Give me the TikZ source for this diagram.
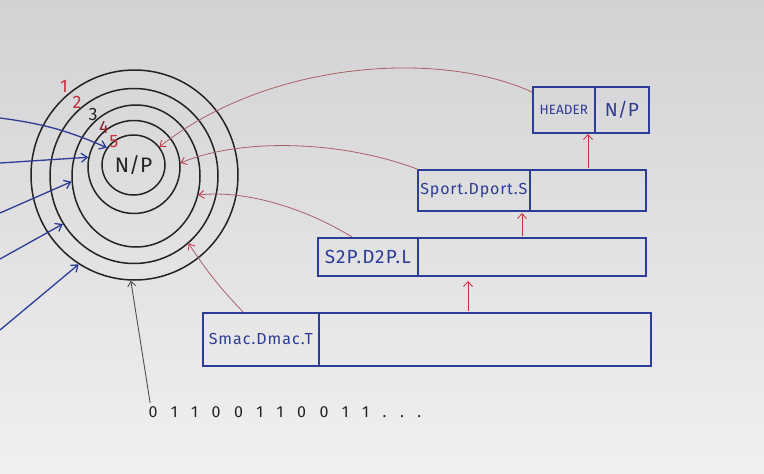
\documentclass[tikz,border=0pt]{standalone}
\usepackage{fontspec}
\setmainfont{Fira Sans}
\usetikzlibrary{shapes.geometric,arrows.meta,calc}
\definecolor{ink}{RGB}{45,60,150}
\definecolor{redink}{RGB}{200,45,60}
\definecolor{paleRed}{RGB}{170,95,105}
\definecolor{pen}{RGB}{35,35,35}
\definecolor{bgtop}{RGB}{210,210,212}
\definecolor{bgbot}{RGB}{240,240,240}
\begin{document}
\begin{tikzpicture}[x=1pt,y=-1pt,
  ring/.style={ellipse, draw=pen, line width=1.5pt, inner sep=0pt},
  bluearrow/.style={draw=ink, line width=1.3pt, -{Straight Barb[length=6pt,width=9pt]}},
  redcurve/.style={draw=paleRed, line width=0.8pt, -{Straight Barb[length=5pt,width=8pt,color=redink]}},
  redup/.style={draw=redink, line width=0.8pt, -{Straight Barb[length=5pt,width=9pt]}},
  penarrow/.style={draw=pen!80, line width=0.9pt, -{Straight Barb[length=5pt,width=8pt]}},
  box/.style={draw=ink, line width=1.7pt, inner sep=0pt, anchor=north west, text=ink},
  num/.style={font=\fontsize{18}{18}\selectfont}
]
\shade[top color=bgtop, bottom color=bgbot] (0,0) rectangle (764,474);
\useasboundingbox (0,0) rectangle (764,474);

% rings
\node[ring, minimum width=207pt, minimum height=210pt] (r1) at (134.5,175) {};
\node[ring, minimum width=168pt, minimum height=175pt] (r2) at (134,176) {};
\node[ring, minimum width=128pt, minimum height=142pt] (r3) at (136,176) {};
\node[ring, minimum width=92pt, minimum height=93pt] (r4) at (134,167) {};
\node[ring, minimum width=63pt, minimum height=60pt, text=pen, font=\fontsize{21}{21}\selectfont] (r5) at (133.5,165) {N/P};

% ring labels
\node[num, text=redink] (n1) at (64,86) {1};
\node[num, text=redink] (n2) at (77,102) {2};
\node[num, text=pen] (n3) at (93,114) {3};
\node[num, text=redink!70!black] (n4) at (104,127) {4};
\node[num, text=redink] (n5) at (114,142) {5};

% blue arrows from the left
\coordinate (b1) at (0,118);
\coordinate (b2) at (0,163);
\coordinate (b3) at (0,213);
\coordinate (b4) at (0,259);
\coordinate (b5) at (0,330);
\draw[bluearrow] (b1) to[bend left=8] (r5.147);
\draw[bluearrow] (b2) to (r4.168);
\draw[bluearrow] (b3) to (r3.185);
\draw[bluearrow] (b4) to (r2.214);
\draw[bluearrow] (b5) to (r1.238);

% boxes
\node[box, minimum width=62pt, minimum height=46pt, font=\fontsize{13.5}{13}\selectfont] (hdrL) at (532,86) {HEADER};
\node[box, minimum width=54pt, minimum height=46pt, font=\fontsize{19}{19}\selectfont] (hdrR) at (594,86) {N/P};

\node[box, minimum width=112pt, minimum height=41pt, font=\fontsize{16}{16}\selectfont\addfontfeature{LetterSpace=5}] (sptL) at (417,169) {Sport.Dport.S};
\node[box, minimum width=116pt, minimum height=41pt] (sptR) at (529,169) {};

\node[box, minimum width=100pt, minimum height=38pt, font=\fontsize{19}{19}\selectfont\addfontfeature{LetterSpace=6}] (ipL) at (317,237) {S2P.D2P.L};
\node[box, minimum width=228pt, minimum height=38pt] (ipR) at (417,237) {};

\node[box, minimum width=116pt, minimum height=53pt, font=\fontsize{16}{16}\selectfont\addfontfeature{LetterSpace=6}] (macL) at (202,312) {Smac.Dmac.T};
\node[box, minimum width=332pt, minimum height=53pt] (macR) at (318,312) {};

% bits
\node[text=pen, font=\fontsize{16}{16}\selectfont\addfontfeature{LetterSpace=85}] (bits) at (285,412) {01100110011...};

% red curves to rings
\draw[redcurve] ([yshift=-6]hdrL.north west) .. controls (440,50) and (270,60) .. (r5.35);
\draw[redcurve] (sptL.north west) .. controls (340,140) and (240,138) .. (r4.5);
\draw[redcurve] ([xshift=35]ipL.north west) .. controls (300,205) and (240,190) .. (r3.-17);
\draw[redcurve] ([xshift=41]macL.north west) to[bend left=5] (r2.-51);
\draw[penarrow] ([xshift=5]bits.north west) -- (r1.-92);

% vertical arrows between layers
\coordinate (u1s) at (468,311);
\coordinate (u1e) at (468,281);
\coordinate (u2s) at (522,236);
\coordinate (u2e) at (522,213);
\coordinate (u3s) at (588,168);
\coordinate (u3e) at (588,134);
\draw[redup] (u1s) -- (u1e);
\draw[redup] (u2s) -- (u2e);
\draw[redup] (u3s) -- (u3e);
\end{tikzpicture}
\end{document}
